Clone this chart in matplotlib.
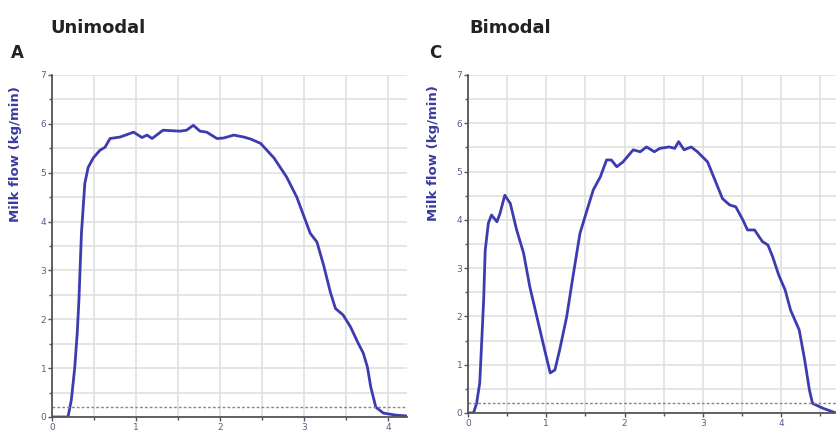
import numpy as np
import matplotlib
matplotlib.use('Agg')
import matplotlib.pyplot as plt
from matplotlib.ticker import MultipleLocator

# Unimodal milking curve (panel A)
t_uni = [0, 0.10, 0.19, 0.23, 0.27, 0.30, 0.32, 0.35, 0.39, 0.43, 0.49, 0.57,
         0.63, 0.69, 0.81, 0.97, 1.07, 1.13, 1.19, 1.32, 1.52, 1.60, 1.68, 1.76,
         1.84, 1.96, 2.04, 2.16, 2.28, 2.36, 2.48, 2.64, 2.79, 2.91, 3.07, 3.15,
         3.23, 3.31, 3.37, 3.46, 3.55, 3.64, 3.70, 3.75, 3.79, 3.85, 3.94, 4.08, 4.22]
f_uni = [0, 0, 0, 0.35, 1.0, 1.72, 2.39, 3.76, 4.78, 5.11, 5.30, 5.46,
         5.52, 5.70, 5.73, 5.83, 5.72, 5.77, 5.70, 5.87, 5.85, 5.87, 5.97, 5.85,
         5.83, 5.70, 5.71, 5.77, 5.73, 5.69, 5.60, 5.30, 4.91, 4.50, 3.76, 3.58,
         3.10, 2.55, 2.22, 2.09, 1.84, 1.51, 1.31, 1.02, 0.61, 0.20, 0.08, 0.04, 0.02]

# Bimodal milking curve (panel C)
t_bi = [0, 0.07, 0.11, 0.15, 0.17, 0.20, 0.22, 0.26, 0.30, 0.37, 0.41, 0.47,
        0.54, 0.62, 0.71, 0.79, 0.88, 0.98, 1.05, 1.11, 1.17, 1.26, 1.34, 1.43,
        1.52, 1.60, 1.69, 1.77, 1.83, 1.90, 1.98, 2.11, 2.20, 2.28, 2.38, 2.45,
        2.57, 2.64, 2.69, 2.76, 2.85, 2.93, 3.06, 3.17, 3.25, 3.34, 3.42, 3.51,
        3.57, 3.66, 3.76, 3.83, 3.89, 3.97, 4.05, 4.12, 4.23, 4.30, 4.36, 4.40,
        4.53, 4.70]
f_bi = [0, 0, 0.2, 0.62, 1.30, 2.34, 3.37, 3.93, 4.10, 3.96, 4.14, 4.51,
        4.34, 3.80, 3.31, 2.61, 1.99, 1.30, 0.83, 0.89, 1.30, 1.99, 2.82, 3.72,
        4.20, 4.62, 4.89, 5.24, 5.24, 5.10, 5.20, 5.45, 5.41, 5.51, 5.41, 5.48,
        5.51, 5.48, 5.62, 5.45, 5.51, 5.41, 5.20, 4.76, 4.44, 4.31, 4.27, 4.0,
        3.79, 3.79, 3.55, 3.48, 3.24, 2.85, 2.55, 2.13, 1.72, 1.10, 0.48, 0.20,
        0.10, 0.0]

line_col = '#3c3cb0'
lab_col = '#3a3aa0'
tick_col = '#5a5a88'
threshold = 0.2


def style_axis(ax, xmax, label_x):
    ax.set_xlim(0, xmax)
    ax.set_ylim(0, 7)
    ax.xaxis.set_major_locator(MultipleLocator(1))
    ax.xaxis.set_minor_locator(MultipleLocator(0.5))
    ax.yaxis.set_major_locator(MultipleLocator(1))
    ax.yaxis.set_minor_locator(MultipleLocator(0.5))
    ax.grid(which='both', color='#e0e0e0', linewidth=1.2)
    ax.set_axisbelow(True)
    for s in ['top', 'right']:
        ax.spines[s].set_visible(False)
    for s in ['left', 'bottom']:
        ax.spines[s].set_color('#555555')
        ax.spines[s].set_linewidth(1.3)
    ax.tick_params(which='major', length=3, width=1, color='#555555',
                   labelsize=6.5, labelcolor=tick_col, pad=1)
    ax.tick_params(which='minor', length=2, width=1, color='#555555')
    ax.set_ylabel('Milk flow (kg/min)', color=lab_col, fontsize=9.5,
                  fontweight='bold')
    ax.yaxis.set_label_coords(label_x, 0.77)
    ax.axhline(threshold, color='#888888', linewidth=1, linestyle=(0, (2, 1.5)))


fig = plt.figure(figsize=(8.36, 4.36), dpi=100)

ax1 = fig.add_axes([0.0622, 0.0436, 0.4246, 0.7844])
ax1.plot(t_uni, f_uni, color=line_col, linewidth=2)
style_axis(ax1, 4.22, -0.085)

ax2 = fig.add_axes([0.5598, 0.0528, 0.4402, 0.7752])
ax2.plot(t_bi, f_bi, color=line_col, linewidth=2)
style_axis(ax2, 4.70, -0.076)

fig.text(0.060, 0.935, 'Unimodal', fontsize=13, fontweight='bold',
         color='#222222', va='center')
fig.text(0.013, 0.878, 'A', fontsize=12, fontweight='bold',
         color='#222222', va='center')
fig.text(0.562, 0.935, 'Bimodal', fontsize=13, fontweight='bold',
         color='#222222', va='center')
fig.text(0.513, 0.878, 'C', fontsize=12, fontweight='bold',
         color='#222222', va='center')

fig.savefig('out.png', dpi=100)
